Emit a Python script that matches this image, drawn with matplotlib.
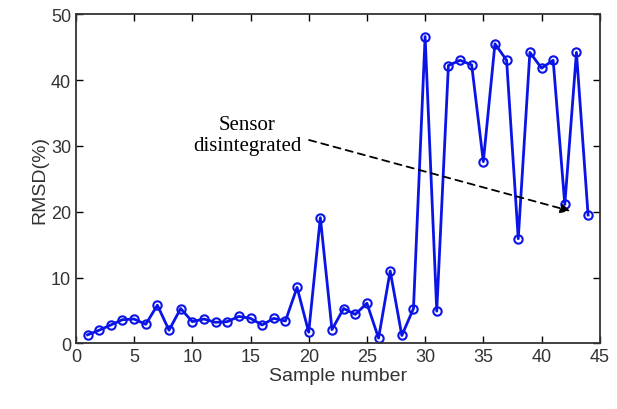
import matplotlib.pyplot as plt

# RMSD values
sample = list(range(1, 45))
rmsd = [1.3, 2.0, 2.8, 3.6, 3.7, 2.9, 5.8, 2.0, 5.3, 3.3,
        3.7, 3.2, 3.3, 4.1, 3.8, 2.8, 3.8, 3.4, 8.5, 1.7,
        19.1, 2.1, 5.3, 4.4, 6.1, 0.8, 11.0, 1.2, 5.3, 46.6,
        4.9, 42.2, 43.0, 42.3, 27.6, 45.5, 43.0, 15.9, 44.2, 41.8,
        43.0, 21.1, 44.2, 19.5]

xticks = [0, 5, 10, 15, 20, 25, 30, 35, 40, 45]
yticks = [0, 10, 20, 30, 40, 50]

plt.rcParams['font.family'] = ['Liberation Sans', 'DejaVu Sans']

fig = plt.figure(figsize=(6.17, 4.10), dpi=100)
ax = fig.add_axes([0.123, 0.16, 0.849, 0.803])

ax.plot(sample, rmsd, color='#0a14e6', linewidth=2, marker='o', markersize=6,
        markerfacecolor='none', markeredgewidth=1.5)

ax.set_xlim(0, 45)
ax.set_ylim(0, 50)
ax.set_xticks(xticks)
ax.set_yticks(yticks)
ax.tick_params(direction='in', top=True, right=True, length=5, labelsize=13,
               labelcolor='#333333', width=1)
for s in ax.spines.values():
    s.set_linewidth(1.3)
    s.set_color('#333333')

ax.set_xlabel('Sample number', fontsize=14, color='#333333', labelpad=1)
ax.set_ylabel('RMSD(%)', fontsize=14, color='#333333', labelpad=2)

# annotation
ax.annotate('', xy=(42.7, 20.0), xytext=(19.8, 31.0),
            arrowprops=dict(arrowstyle='-|>', linestyle=(0, (4, 3)), color='black',
                            lw=1.3, mutation_scale=14))
ax.text(14.7, 31.6, 'Sensor\ndisintegrated', family=['Liberation Serif'],
        fontsize=15, ha='center', va='center', linespacing=1.15)

fig.savefig('out.png', dpi=100)
